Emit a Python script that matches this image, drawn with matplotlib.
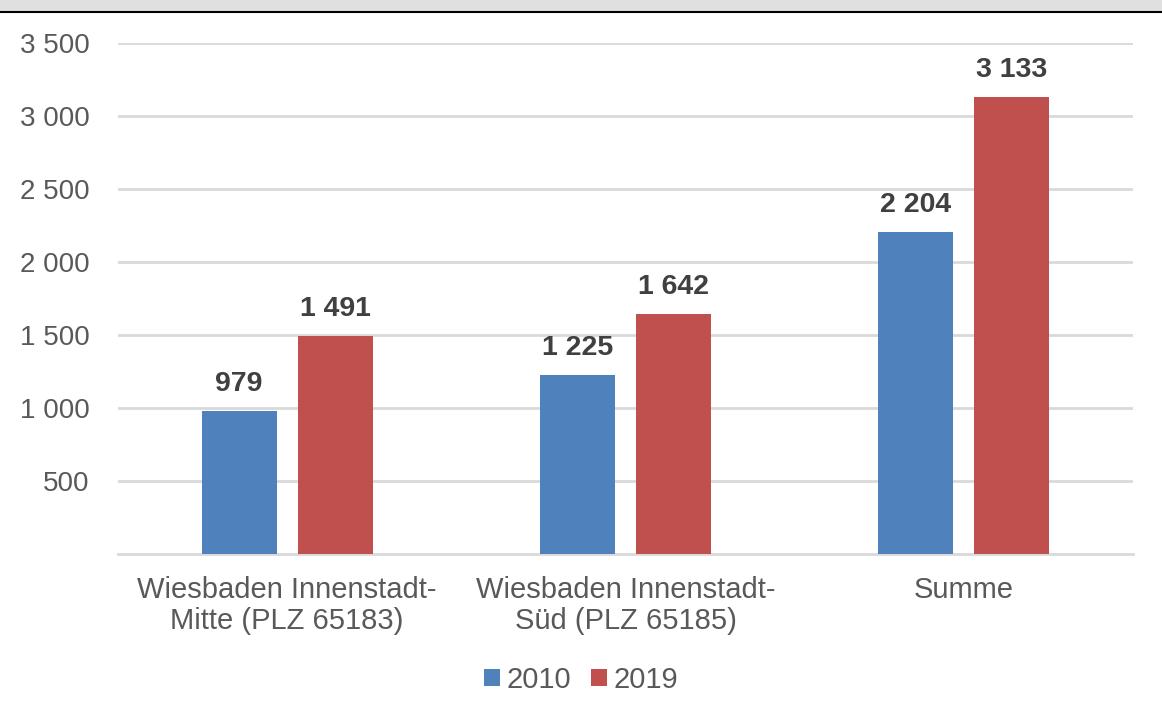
import matplotlib
matplotlib.use("Agg")
import matplotlib.pyplot as plt
from matplotlib.patches import Rectangle
from matplotlib.lines import Line2D
import numpy as np

categories = ["Wiesbaden Innenstadt-\nMitte (PLZ 65183)", "Wiesbaden Innenstadt-\nSüd (PLZ 65185)", "Summe"]
series_names = ["2010", "2019"]
values_2010 = [979, 1225, 2204]
values_2019 = [1491, 1642, 3133]
yticks = [500, 1000, 1500, 2000, 2500, 3000, 3500]

colors = ["#4f81bd", "#c0504d"]
plt.rcParams['font.family'] = ['Liberation Sans', 'DejaVu Sans']

W, H = 1162, 713
fig = plt.figure(figsize=(W/100, H/100), dpi=100)
ax = fig.add_axes([118/W, 1-554/H, (1133-118)/W, (554-43)/H])

x = np.arange(len(categories))
bw = 0.222
off = 0.142
def fmt(v):
    return f"{v:,}".replace(",", " ")

for vals, o, c, name in [(values_2010, -off, colors[0], series_names[0]), (values_2019, off, colors[1], series_names[1])]:
    bars = ax.bar(x + o, vals, width=bw, color=c, label=name, zorder=3)
    for b, v in zip(bars, vals):
        ax.annotate(fmt(v), (b.get_x()+b.get_width()/2, v), xytext=(0, 10), textcoords="offset points",
                    ha="center", va="bottom", fontsize=20.5, fontweight="bold", color="#404040")

ax.set_xlim(-0.5, 2.5)
ax.set_ylim(0, 3500)
ax.set_yticks(yticks)
ax.set_yticklabels([fmt(v) for v in yticks], fontsize=20)
ax.set_xticks(x)
ax.set_xticklabels(categories, linespacing=1.12, fontsize=21)
ax.tick_params(axis='both', length=0, labelcolor="#595959")
ax.tick_params(axis='y', pad=20.5)
ax.tick_params(axis='x', pad=16)
ax.grid(axis='y', color="#d9d9d9", linewidth=2, zorder=0)
for s in ["top", "right", "left"]:
    ax.spines[s].set_visible(False)
ax.spines["bottom"].set_color("#d9d9d9")
ax.spines["bottom"].set_linewidth(2)

leg = fig.legend(loc="center", bbox_to_anchor=(0.5, 1-680/H), ncol=2, frameon=False,
                 fontsize=21, handlelength=0.55, handleheight=0.55, handletextpad=0.2, columnspacing=0.7)
for t in leg.get_texts():
    t.set_color("#595959")

# top band and border
fig.patches.append(Rectangle((0, 1-11/H), 1, 11/H, transform=fig.transFigure, color="#e0e0e0", zorder=0))
fig.lines.append(Line2D([0, 1], [1-11.5/H, 1-11.5/H], transform=fig.transFigure, color="black", linewidth=1.5))

fig.savefig("out.png", dpi=100)
